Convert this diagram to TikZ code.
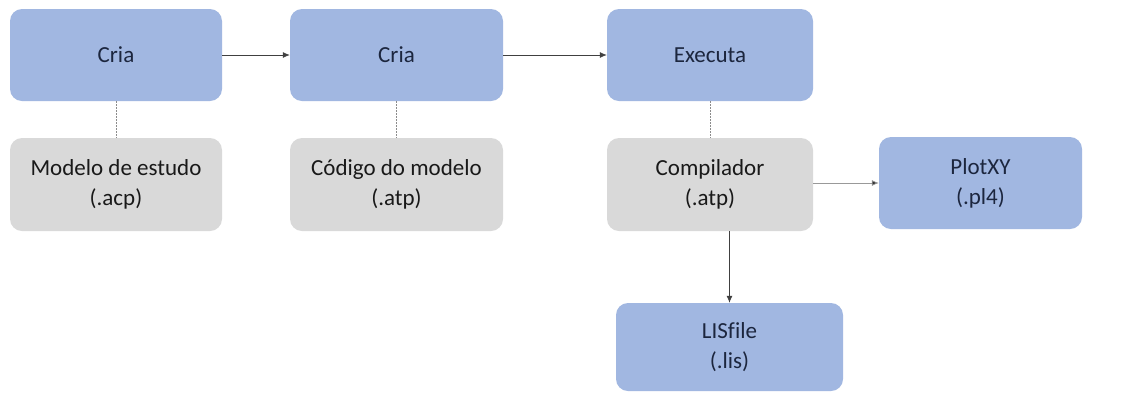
\documentclass[tikz,border=0pt]{standalone}
\usepackage{fontspec}
\setmainfont[Ligatures=NoCommon]{Carlito}
\usetikzlibrary{arrows.meta}
\definecolor{bluebox}{RGB}{161,183,225}
\definecolor{graybox}{RGB}{217,217,217}
\definecolor{bluetext}{RGB}{28,38,62}
\begin{document}
\begin{tikzpicture}[x=1pt,y=-1pt,
  boxbase/.style={rounded corners=12pt, inner sep=0pt, align=center,
    font=\fontsize{23}{30}\selectfont},
  bluenode/.style={boxbase, fill=bluebox, text=bluetext},
  graynode/.style={boxbase, fill=graybox, text=black!90},
  arr/.style={draw=black!75, line width=0.8pt, -{Latex[length=7pt,width=6pt]}},
  lightarr/.style={draw=black!40, line width=0.7pt, -{Latex[length=7pt,width=6pt,fill=black!80]}},
  dotline/.style={draw=black!45, line width=0.6pt, dash pattern=on 1.5pt off 1.5pt}]
\useasboundingbox (0,0) rectangle (1136,392);
\fill[white] (0,0) rectangle (1136,392);
% top row
\node[bluenode, minimum width=212pt, minimum height=92pt] (b1) at (116,55) {Cria};
\node[bluenode, minimum width=213pt, minimum height=92pt] (b2) at (396.5,55) {Cria};
\node[bluenode, minimum width=206pt, minimum height=92pt] (b3) at (710,55) {Executa};
% second row
\node[graynode, minimum width=212pt, minimum height=93pt] (g1) at (116,184.5) {Modelo de estudo\\(.acp)};
\node[graynode, minimum width=213pt, minimum height=93pt] (g2) at (396.5,184.5) {Código do modelo\\(.atp)};
\node[graynode, minimum width=206pt, minimum height=93pt] (g3) at (710,184.5) {Compilador\\(.atp)};
\node[bluenode, minimum width=203pt, minimum height=92pt] (p) at (980.5,183) {PlotXY\\(.pl4)};
\node[bluenode, minimum width=227pt, minimum height=88pt] (l) at (729.5,347) {LISf{}ile\\(.lis)};
% connectors
\draw[arr] (b1.east) -- (b2.west);
\draw[arr] (b2.east) -- (b3.west);
\draw[lightarr] (g3.east |- p.west) -- (p.west);
\draw[arr] (l.north |- g3.south) -- (l.north);
\draw[dotline] (b1.south) -- (g1.north);
\draw[dotline] (b2.south) -- (g2.north);
\draw[dotline] (b3.south) -- (g3.north);
\end{tikzpicture}
\end{document}
